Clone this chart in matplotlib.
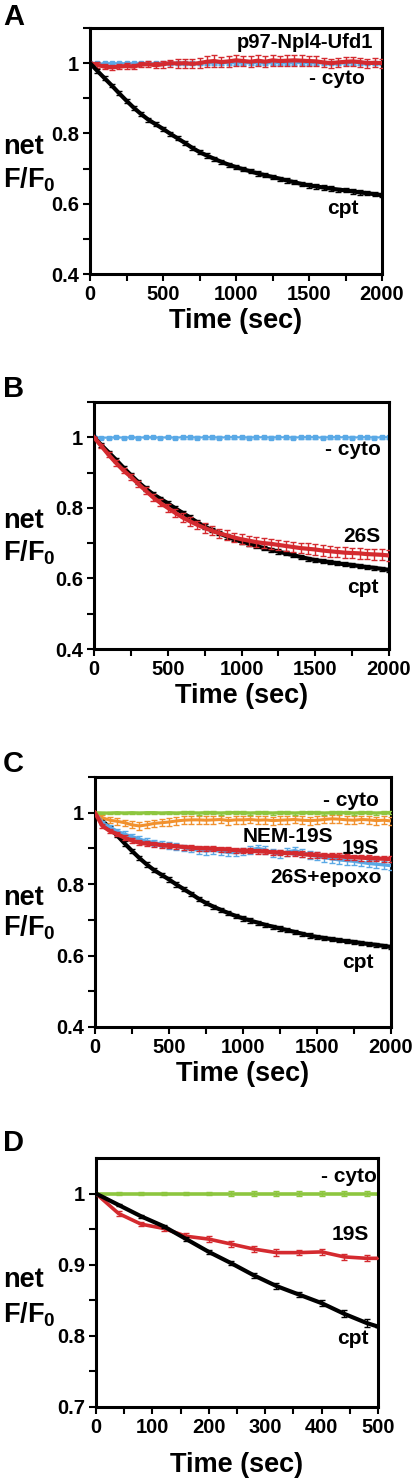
import matplotlib
matplotlib.use('Agg')
import matplotlib.pyplot as plt
from matplotlib.ticker import MultipleLocator, FixedLocator, FixedFormatter

plt.rcParams['font.family'] = ['Liberation Sans', 'DejaVu Sans']
plt.rcParams['font.weight'] = 'bold'
plt.rcParams['mathtext.fontset'] = 'custom'
plt.rcParams['mathtext.bf'] = 'Liberation Sans:bold'
plt.rcParams['mathtext.rm'] = 'Liberation Sans:bold'

rojo = '#d42a2f'
azul = '#5aa9e6'
verde = '#8dc63f'
naranja = '#f1912e'

# ================= datos =================
t_largo = list(range(0, 2001, 50))

cpt = [1.000, 0.978, 0.957, 0.936, 0.914, 0.893, 0.873, 0.855, 0.839, 0.826,
       0.813, 0.799, 0.786, 0.773, 0.759, 0.747, 0.737, 0.728, 0.719, 0.711,
       0.704, 0.698, 0.692, 0.686, 0.681, 0.676, 0.671, 0.666, 0.661, 0.656,
       0.652, 0.649, 0.646, 0.643, 0.640, 0.638, 0.635, 0.632, 0.630, 0.627, 0.624]
cpt_err = [0.000, 0.005, 0.005, 0.005, 0.006, 0.006, 0.006, 0.006, 0.006, 0.006,
           0.006, 0.006, 0.006, 0.006, 0.006, 0.006, 0.006, 0.006, 0.006, 0.006,
           0.006, 0.006, 0.006, 0.006, 0.006, 0.006, 0.006, 0.006, 0.006, 0.006,
           0.006, 0.006, 0.006, 0.006, 0.006, 0.006, 0.006, 0.006, 0.006, 0.006, 0.006]

cyto = [1.000, 0.999, 0.999, 1.000, 0.999, 1.000, 0.999, 1.000, 1.000, 0.999,
        1.000, 0.999, 1.000, 1.000, 0.999, 1.000, 1.000, 0.999, 1.000, 1.000,
        1.000, 0.999, 1.000, 1.000, 0.999, 1.000, 1.000, 0.999, 1.000, 1.000,
        1.000, 0.999, 1.000, 1.000, 1.000, 0.999, 1.000, 1.000, 0.999, 1.000, 1.000]
cyto_err = [0.000, 0.003, 0.003, 0.003, 0.003, 0.003, 0.003, 0.003, 0.003, 0.003,
            0.003, 0.003, 0.004, 0.004, 0.004, 0.004, 0.004, 0.004, 0.004, 0.004,
            0.004, 0.004, 0.004, 0.004, 0.004, 0.004, 0.004, 0.004, 0.004, 0.004,
            0.004, 0.004, 0.004, 0.004, 0.004, 0.004, 0.004, 0.004, 0.004, 0.004, 0.004]

p97 = [1.000, 0.995, 0.990, 0.988, 0.990, 0.992, 0.990, 0.996, 0.997, 0.994,
       0.997, 1.000, 0.999, 1.000, 0.998, 1.000, 1.004, 1.006, 1.003, 1.005,
       1.008, 1.006, 1.004, 1.007, 1.004, 1.008, 1.006, 1.007, 1.008, 1.007,
       1.006, 1.005, 1.002, 1.000, 1.002, 1.004, 1.005, 1.003, 1.000, 1.001, 1.000]
p97_err = [0.000, 0.008, 0.008, 0.008, 0.008, 0.008, 0.008, 0.008, 0.009, 0.009,
           0.010, 0.010, 0.012, 0.013, 0.013, 0.014, 0.015, 0.016, 0.015, 0.015,
           0.015, 0.015, 0.015, 0.015, 0.015, 0.016, 0.015, 0.015, 0.015, 0.015,
           0.015, 0.014, 0.014, 0.013, 0.013, 0.013, 0.013, 0.013, 0.013, 0.013, 0.013]

s26 = [1.000, 0.975, 0.950, 0.927, 0.906, 0.888, 0.868, 0.849, 0.830, 0.814,
       0.800, 0.786, 0.773, 0.762, 0.752, 0.743, 0.735, 0.728, 0.722, 0.716,
       0.711, 0.707, 0.703, 0.700, 0.698, 0.695, 0.692, 0.689, 0.686, 0.684,
       0.682, 0.679, 0.677, 0.675, 0.673, 0.672, 0.671, 0.669, 0.668, 0.667, 0.665]
s26_err = [0.000, 0.006, 0.007, 0.008, 0.008, 0.009, 0.009, 0.010, 0.010, 0.010,
           0.011, 0.011, 0.012, 0.012, 0.012, 0.013, 0.013, 0.013, 0.014, 0.014,
           0.014, 0.014, 0.014, 0.015, 0.015, 0.015, 0.015, 0.015, 0.015, 0.015,
           0.015, 0.015, 0.015, 0.015, 0.015, 0.015, 0.015, 0.015, 0.015, 0.015, 0.015]

nem19 = [1.000, 0.986, 0.979, 0.976, 0.972, 0.966, 0.963, 0.966, 0.970, 0.972,
         0.974, 0.977, 0.979, 0.980, 0.980, 0.979, 0.980, 0.981, 0.978, 0.980,
         0.980, 0.981, 0.979, 0.980, 0.978, 0.979, 0.980, 0.981, 0.979, 0.978,
         0.979, 0.981, 0.983, 0.982, 0.980, 0.979, 0.981, 0.980, 0.978, 0.979, 0.977]
nem19_err = [0.000, 0.008, 0.008, 0.009, 0.009, 0.010, 0.010, 0.010, 0.010, 0.010,
             0.011, 0.011, 0.011, 0.011, 0.011, 0.011, 0.011, 0.011, 0.011, 0.011,
             0.011, 0.011, 0.011, 0.011, 0.011, 0.011, 0.011, 0.011, 0.011, 0.011,
             0.011, 0.011, 0.011, 0.011, 0.011, 0.011, 0.011, 0.011, 0.011, 0.011, 0.011]

r19 = [1.000, 0.963, 0.949, 0.940, 0.930, 0.922, 0.916, 0.913, 0.912, 0.909,
       0.907, 0.906, 0.904, 0.902, 0.901, 0.900, 0.899, 0.898, 0.897, 0.895,
       0.893, 0.893, 0.892, 0.891, 0.889, 0.888, 0.887, 0.886, 0.884, 0.882,
       0.881, 0.880, 0.879, 0.878, 0.876, 0.875, 0.874, 0.873, 0.872, 0.871, 0.870]
r19_err = [0.000, 0.006, 0.006, 0.006, 0.007, 0.007, 0.007, 0.007, 0.007, 0.007,
           0.007, 0.007, 0.007, 0.007, 0.007, 0.007, 0.007, 0.007, 0.007, 0.007,
           0.007, 0.007, 0.007, 0.007, 0.007, 0.007, 0.007, 0.007, 0.008, 0.008,
           0.008, 0.008, 0.008, 0.008, 0.008, 0.008, 0.008, 0.008, 0.008, 0.008, 0.008]

epoxo = [1.000, 0.972, 0.960, 0.948, 0.940, 0.933, 0.926, 0.920, 0.916, 0.912,
         0.908, 0.905, 0.902, 0.898, 0.895, 0.893, 0.895, 0.892, 0.889, 0.888,
         0.892, 0.896, 0.900, 0.896, 0.888, 0.884, 0.890, 0.894, 0.888, 0.882,
         0.878, 0.874, 0.871, 0.868, 0.866, 0.864, 0.861, 0.858, 0.856, 0.854, 0.852]
epoxo_err = [0.000, 0.006, 0.007, 0.007, 0.008, 0.008, 0.008, 0.008, 0.009, 0.009,
             0.009, 0.009, 0.009, 0.009, 0.010, 0.010, 0.010, 0.010, 0.010, 0.010,
             0.010, 0.011, 0.011, 0.011, 0.011, 0.011, 0.011, 0.011, 0.011, 0.011,
             0.011, 0.011, 0.011, 0.011, 0.011, 0.011, 0.011, 0.011, 0.011, 0.011, 0.011]

t_corto = [0, 40, 80, 120, 160, 200, 240, 280, 320, 360, 400, 440, 480, 500]
cpt_d = [1.000, 0.984, 0.968, 0.954, 0.936, 0.918, 0.902, 0.885, 0.870, 0.858,
         0.846, 0.831, 0.818, 0.813]
cpt_d_err = [0.0, 0.002, 0.002, 0.002, 0.003, 0.003, 0.003, 0.003, 0.004, 0.004,
             0.004, 0.005, 0.006, 0.0]
r19_d = [1.000, 0.972, 0.957, 0.951, 0.940, 0.936, 0.929, 0.922, 0.917, 0.917,
         0.918, 0.911, 0.909, 0.909]
r19_d_err = [0.0, 0.003, 0.003, 0.003, 0.004, 0.004, 0.004, 0.004, 0.005, 0.004,
             0.004, 0.004, 0.004, 0.0]
cyto_d = [1.000, 1.000, 1.000, 1.000, 1.000, 1.000, 1.000, 1.000, 1.000, 1.000,
          1.000, 1.000, 1.000, 1.000]
cyto_d_err = [0.0, 0.002, 0.002, 0.002, 0.002, 0.002, 0.003, 0.003, 0.003, 0.003,
              0.003, 0.003, 0.004, 0.0]

# ================= figura =================
fig = plt.figure(figsize=(4.15, 14.82), dpi=100)
W, H = 415.0, 1482.0


def ejes(izq, arriba, der, abajo):
    return fig.add_axes([izq / W, 1 - abajo / H, (der - izq) / W, (abajo - arriba) / H])


def serie(ax, x, y, e, color, lw=3.0, ms=0, z=2):
    ax.errorbar(x, y, yerr=e, color=color, lw=lw, elinewidth=1.0, capsize=2.2,
                capthick=1.0, marker='s' if ms else None, ms=ms, zorder=z)


def formato(ax, xmax, xmaj, xmin, ylim, ymaj, ylabels, ymin):
    ax.set_xlim(0, xmax)
    ax.set_ylim(*ylim)
    ax.xaxis.set_major_locator(MultipleLocator(xmaj))
    ax.xaxis.set_minor_locator(MultipleLocator(xmin))
    ax.yaxis.set_major_locator(FixedLocator(ymaj))
    ax.yaxis.set_major_formatter(FixedFormatter(ylabels))
    ax.yaxis.set_minor_locator(FixedLocator(ymin))
    ax.tick_params(which='both', direction='out', width=1.5, labelsize=14.5, pad=3)
    ax.tick_params(which='major', length=5)
    ax.tick_params(which='minor', length=5)
    for s in ax.spines.values():
        s.set_linewidth(2.2)
    for lab in ax.get_xticklabels() + ax.get_yticklabels():
        lab.set_fontweight('bold')
    ax.set_xlabel('Time (sec)', fontsize=19.5, fontweight='bold', labelpad=3)


def etiqueta_y(yc_net, yc_f):
    fig.text(3 / W, 1 - yc_net / H, 'net', fontsize=19.5, fontweight='bold', va='center', ha='left')
    fig.text(3 / W, 1 - yc_f / H, r'$\mathbf{F/F_0}$', fontsize=19.5, va='center', ha='left')


# A
ax = ejes(90, 28, 382, 274)
serie(ax, t_largo, cyto, cyto_err, azul, lw=1.6, ms=2.5, z=2)
serie(ax, t_largo, p97, p97_err, rojo, z=3)
serie(ax, t_largo, cpt, cpt_err, 'black', z=3)
formato(ax, 2000, 500, 250, (0.4, 1.1), [0.4, 0.6, 0.8, 1.0], ['0.4', '0.6', '0.8', '1'],
        [0.5, 0.7, 0.9, 1.1])
ax.text(1938, 1.06, 'p97-Npl4-Ufd1', fontsize=14.5, fontweight='bold', ha='right', va='center')
ax.text(1883, 0.956, '- cyto', fontsize=15, fontweight='bold', ha='right', va='center')
ax.text(1733, 0.587, 'cpt', fontsize=15, fontweight='bold', ha='center', va='center')
fig.text(3 / W, 1 - 17 / H, 'A', fontsize=21, fontweight='bold', va='center')
etiqueta_y(147, 180)

# B
ax = ejes(94, 402, 389, 649)
serie(ax, t_largo, cyto, cyto_err, azul, lw=1.6, ms=2.5, z=2)
serie(ax, t_largo, cpt, cpt_err, 'black', z=3)
serie(ax, t_largo, s26, s26_err, rojo, z=4)
formato(ax, 2000, 500, 250, (0.4, 1.1), [0.4, 0.6, 0.8, 1.0], ['0.4', '0.6', '0.8', '1'],
        [0.5, 0.7, 0.9, 1.1])
ax.text(1946, 0.965, '- cyto', fontsize=15, fontweight='bold', ha='right', va='center')
ax.text(1939, 0.719, '26S', fontsize=15, fontweight='bold', ha='right', va='center')
ax.text(1932, 0.573, 'cpt', fontsize=15, fontweight='bold', ha='right', va='center')
fig.text(3 / W, 1 - 389 / H, 'B', fontsize=21, fontweight='bold', va='center')
etiqueta_y(521, 553)

# C
ax = ejes(95, 777, 391, 1027)
serie(ax, t_largo, cpt, cpt_err, 'black', z=2)
serie(ax, t_largo, nem19, nem19_err, naranja, lw=2.2, z=3)
serie(ax, t_largo, cyto, cyto_err, verde, lw=2.4, z=4)
serie(ax, t_largo, epoxo, epoxo_err, azul, lw=2.4, z=3)
serie(ax, t_largo, r19, r19_err, rojo, z=4)
formato(ax, 2000, 500, 250, (0.4, 1.1), [0.4, 0.6, 0.8, 1.0], ['0.4', '0.6', '0.8', '1'],
        [0.5, 0.7, 0.9, 1.1])
ax.text(1919, 1.033, '- cyto', fontsize=15, fontweight='bold', ha='right', va='center')
ax.text(1608, 0.932, 'NEM-19S', fontsize=15, fontweight='bold', ha='right', va='center')
ax.text(1919, 0.900, '19S', fontsize=15, fontweight='bold', ha='right', va='center')
ax.text(1940, 0.818, '26S+epoxo', fontsize=15, fontweight='bold', ha='right', va='center')
ax.text(1885, 0.582, 'cpt', fontsize=15, fontweight='bold', ha='right', va='center')
fig.text(3 / W, 1 - 764 / H, 'C', fontsize=21, fontweight='bold', va='center')
etiqueta_y(898, 928)

# D
ax = ejes(96, 1158, 378, 1407)
serie(ax, t_corto, cyto_d, cyto_d_err, verde, lw=2.6, z=2)
serie(ax, t_corto, r19_d, r19_d_err, rojo, lw=2.6, z=3)
serie(ax, t_corto, cpt_d, cpt_d_err, 'black', lw=3.0, z=4)
formato(ax, 500, 100, 50, (0.7, 1.05), [0.7, 0.8, 0.9, 1.0], ['0.7', '0.8', '0.9', '1'],
        [0.75, 0.85, 0.95])
ax.text(498, 1.024, '- cyto', fontsize=15, fontweight='bold', ha='right', va='center')
ax.text(484, 0.942, '19S', fontsize=15, fontweight='bold', ha='right', va='center')
ax.text(483, 0.796, 'cpt', fontsize=15, fontweight='bold', ha='right', va='center')
ax.xaxis.labelpad = 11
fig.text(3 / W, 1 - 1143 / H, 'D', fontsize=21, fontweight='bold', va='center')
etiqueta_y(1280, 1315)

fig.savefig('out.png', dpi=100)
